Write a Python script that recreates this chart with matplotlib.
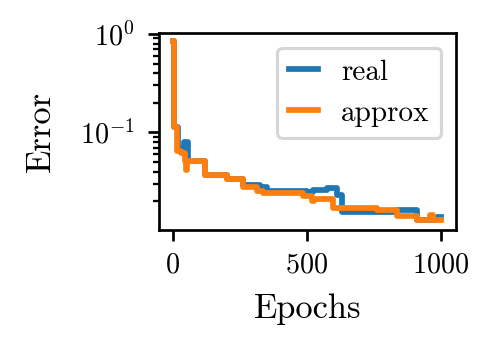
import matplotlib
matplotlib.use("Agg")
import matplotlib.pyplot as plt

plt.rcParams.update({
    "font.family": "serif",
    "font.serif": ["cmr10"],
    "mathtext.fontset": "cm",
    "axes.formatter.use_mathtext": True,
    "axes.unicode_minus": False,
    "axes.linewidth": 1.3,
    "xtick.major.width": 1.3,
    "ytick.major.width": 1.3,
    "ytick.minor.width": 1.1,
    "xtick.major.size": 5.25,
    "ytick.major.size": 5.25,
    "ytick.minor.size": 3.0,
    "xtick.major.pad": 5.5,
    "ytick.major.pad": 6.5,
    "ytick.minor.pad": 6.5,
})

# step breakpoints (epoch, error)
real_epochs = [0, 4, 20, 40, 55, 119, 200, 262, 275, 325, 350, 499, 524, 573, 580, 611, 629, 835, 897, 909, 984, 1000]
real_error = [0.85, 0.115, 0.068, 0.080, 0.051, 0.0367, 0.0336, 0.0296, 0.0296, 0.0279, 0.0256, 0.0246, 0.026, 0.027, 0.027, 0.023, 0.0157, 0.0165, 0.0165, 0.013, 0.014, 0.014]

approx_epochs = [0, 4, 15, 30, 45, 48, 52, 119, 200, 262, 312, 336, 486, 520, 528, 598, 760, 835, 909, 959, 971, 1000]
approx_error = [0.85, 0.115, 0.065, 0.062, 0.0515, 0.042, 0.0515, 0.0367, 0.0336, 0.0282, 0.0256, 0.0243, 0.0224, 0.020, 0.0213, 0.0170, 0.0163, 0.0143, 0.0129, 0.0145, 0.013, 0.013]

fig = plt.figure(figsize=(497 / 150, 350 / 150), dpi=150)
ax = fig.add_axes([159 / 497, 1 - 230 / 350, (456 - 159) / 497, (230 - 33) / 350])

ax.plot(real_epochs, real_error, drawstyle="steps-post", color="#1f77b4", lw=2.75, label="real")
ax.plot(approx_epochs, approx_error, drawstyle="steps-post", color="#ff7f0e", lw=2.75, label="approx")
ax.set_yscale("log")
ax.set_xlim(-52, 1056)
ax.set_ylim(10 ** -1.99, 10 ** 0.01)
ax.set_xticks([0, 500, 1000])
ax.tick_params(labelsize=13.5)
ax.set_xlabel("Epochs", fontsize=16.5, labelpad=7)
ax.set_ylabel("Error", fontsize=16.5, labelpad=11)
leg = ax.legend(loc="upper right", fontsize=14, handlelength=1.0)
leg.get_frame().set_linewidth(1.5)

fig.savefig("out.png", dpi=150)
